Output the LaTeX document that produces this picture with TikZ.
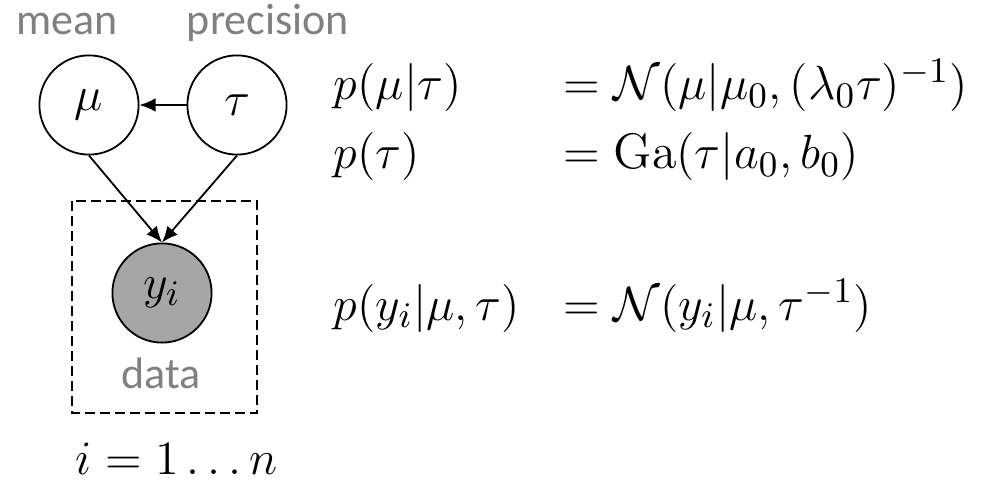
\documentclass[tikz,border=0pt]{standalone}
\usepackage{fontspec}
\newfontfamily\labelfont{Carlito}
\usetikzlibrary{arrows.meta}
\definecolor{obsgray}{RGB}{166,166,166}
\definecolor{labelgray}{RGB}{128,128,128}
\begin{document}
\begin{tikzpicture}[x=0.25pt, y=-0.25pt, line width=0.45pt,
  >={Latex[length=4pt,width=3.4pt]},
  var/.style={draw, circle, minimum size=24.8pt, inner sep=0pt, font=\fontsize{13}{15}\selectfont},
  obs/.style={var, fill=obsgray},
  plate/.style={dash pattern=on 2.5pt off 1.25pt},
  lbl/.style={text=labelgray, font=\labelfont\fontsize{11}{13}\selectfont, inner sep=0pt, anchor=base},
  eq/.style={font=\fontsize{12.5}{15}\selectfont, inner sep=0pt, anchor=base west}]
\useasboundingbox (0,0) rectangle (992,480);
\node[var] (mu) at (89,105) {$\mu$};
\node[var] (tau) at (237,105) {$\tau$};
\node[obs] (yi) at (162,293) {$y_i$};
\draw[plate] (72,201) rectangle (257,413);
\node[lbl] (mean) at (67,35) {mean};
\node[lbl] (precision) at (268,35) {precision};
\node[lbl] (data) at (161,388) {data};
\node[eq] (range) at (75,474) {$i = 1 \ldots n$};
\draw[->] (tau) -- (mu);
\draw[->] (mu.south) -- (yi.north);
\draw[->] (tau.south) -- (yi.north);
\node[eq] (pmu) at (333,100) {$p(\mu|\tau)$};
\node[eq] (nmu) at (563,100) {$=\mathcal{N}(\mu|\mu_0,(\lambda_0\tau)^{-1})$};
\node[eq] (ptau) at (333,169) {$p(\tau)$};
\node[eq] (gtau) at (563,169) {$=\mathrm{Ga}(\tau|a_0,b_0)$};
\node[eq] (pyi) at (333,320) {$p(y_i|\mu,\tau)$};
\node[eq] (nyi) at (563,320) {$=\mathcal{N}(y_i|\mu,\tau^{-1})$};
\end{tikzpicture}
\end{document}
